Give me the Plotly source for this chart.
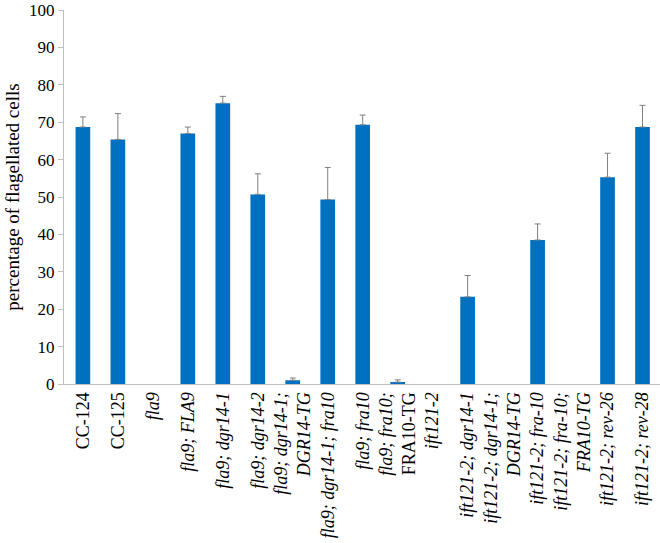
import plotly.graph_objects as go

categories = ["CC-124", "CC-125", "fla9", "fla9; FLA9", "fla9; dgr14-1", "fla9; dgr14-2",
              "fla9; dgr14-1; DGR14-TG", "fla9; dgr14-1; fra10", "fla9; fra10",
              "fla9; fra10; FRA10-TG", "ift121-2", "ift121-2; dgr14-1",
              "ift121-2; dgr14-1; DGR14-TG", "ift121-2; fra-10", "ift121-2; fra-10; FRA10-TG",
              "ift121-2; rev-26", "ift121-2; rev-28"]
tick_labels = ["CC-124", "CC-125", "<i>fla9</i>", "<i>fla9; FLA9</i>", "<i>fla9; dgr14-1</i>",
               "<i>fla9; dgr14-2</i>", "<i>fla9; dgr14-1;</i><br><i>DGR14-TG</i>",
               "<i>fla9; dgr14-1; fra10</i>", "<i>fla9; fra10</i>",
               "<i>fla9; fra10;</i><br>FRA10-TG", "<i>ift121-2</i>", "<i>ift121-2; dgr14-1</i>",
               "<i>ift121-2; dgr14-1;</i><br><i>DGR14-TG</i>", "<i>ift121-2; fra-10</i>",
               "<i>ift121-2; fra-10;</i><br><i>FRA10-TG</i>", "<i>ift121-2; rev-26</i>",
               "<i>ift121-2; rev-28</i>"]
values = [68.7, 65.4, 0, 67.0, 75.1, 50.7, 1.0, 49.3, 69.3, 0.5, 0, 23.3, 0, 38.5, 0, 55.3, 68.7]
errors = [2.7, 6.9, None, 1.7, 1.8, 5.5, 0.6, 8.6, 2.6, 0.6, None, 5.7, None, 4.3, None, 6.4, 5.8]
y_ticks = [0, 10, 20, 30, 40, 50, 60, 70, 80, 90, 100]

font_family = "Liberation Serif, Times New Roman, serif"

# zero-height bars (and their missing error bars) are not drawn at all
bar_y = [v if v > 0 else None for v in values]
err_plus = [e if e is not None else 0 for e in errors]
err_minus = [0 for e in errors]

fig = go.Figure(go.Bar(
    x=categories, y=bar_y, width=0.42,
    marker=dict(color="#0070C0", line=dict(width=0)),
    error_y=dict(type="data", array=err_plus, arrayminus=err_minus, symmetric=False,
                 color="#7F7F7F", thickness=1, width=3),
))

fig.update_layout(
    width=660, height=543,
    margin=dict(l=64, r=0, t=10, b=159),
    paper_bgcolor="white", plot_bgcolor="white",
    font=dict(family=font_family, color="black"),
    showlegend=False,
)
fig.update_xaxes(
    range=[-0.54, 16.5], tickmode="array", tickvals=categories, ticktext=tick_labels,
    tickangle=-90, tickfont=dict(size=18, family=font_family),
    showline=True, linecolor="#BFBFBF", linewidth=1, ticks="", showgrid=False,
    automargin=False,
)
fig.update_yaxes(
    range=[0, 100], tickvals=y_ticks, tickfont=dict(size=17, family=font_family),
    showline=True, linecolor="#BFBFBF", linewidth=1, ticks="outside", ticklen=5,
    tickcolor="#BFBFBF", showgrid=False, zeroline=False, automargin=False,
    title=dict(text="percentage of flagellated cells", font=dict(size=19, family=font_family),
               standoff=4),
)

fig.write_html("out.html", config={"displayModeBar": False},
               post_script="document.body.style.margin='0';")
